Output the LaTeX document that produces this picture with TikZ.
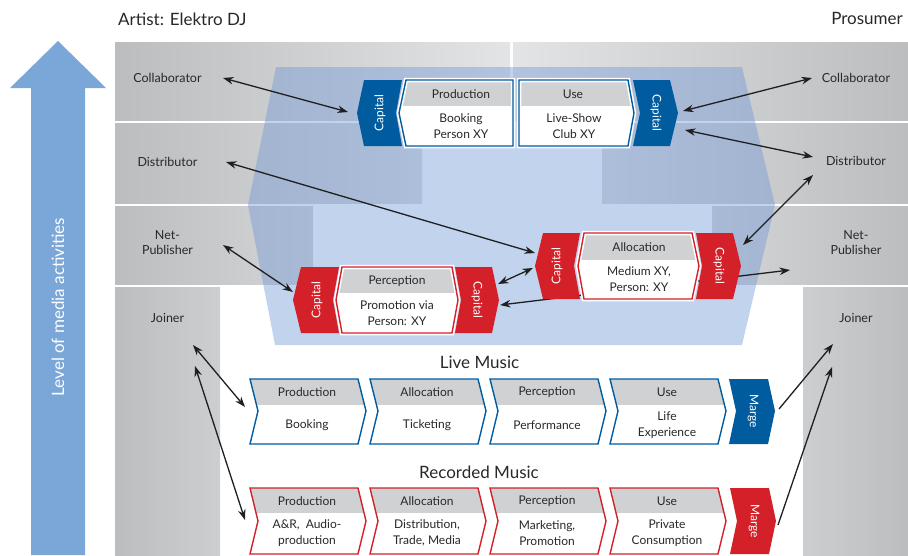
\documentclass[tikz,border=0pt]{standalone}
\usepackage{fontspec}
\setmainfont{Lato}
\usetikzlibrary{arrows.meta}

\definecolor{mblue}{RGB}{0,92,158}
\definecolor{mred}{RGB}{212,32,40}
\definecolor{hdrgray}{RGB}{208,209,211}
\definecolor{txt}{RGB}{40,40,40}
\definecolor{levelblue}{RGB}{123,166,216}
\definecolor{mediablue}{RGB}{110,150,215}
\definecolor{gdark}{RGB}{188,189,191}
\definecolor{glA}{RGB}{227,228,230}
\definecolor{glB}{RGB}{219,220,222}
\definecolor{glC}{RGB}{212,213,215}
\definecolor{glD}{RGB}{205,206,208}

% process box: #1 outline, #2 bottom of header band, #3 outline style, #4 halo style
\newcommand{\procbox}[4]{%
  \begin{scope}
    \clip #1;
    \fill[white] (0,0) rectangle (908,555);
    \fill[hdrgray] (0,0) rectangle (908,#2);
  \end{scope}
  \draw[#4] #1;
  \draw[#3] #1;}

\begin{document}
\begin{tikzpicture}[x=1pt,y=-1pt,
  lbl/.style={font=\fontsize{12.5}{15}\selectfont, text=txt, align=center, inner sep=0pt},
  title/.style={font=\fontsize{17}{20}\selectfont, text=txt, inner sep=0pt},
  hdr/.style={font=\fontsize{12}{14}\selectfont, text=txt, inner sep=0pt},
  body/.style={font=\fontsize{12}{15.5}\selectfont, text=txt, align=center, inner sep=0pt},
  captxt/.style={font=\fontsize{12}{14}\selectfont, text=white, inner sep=0pt},
  bluebox/.style={draw=mblue, line width=1.4pt, line join=miter},
  redbox/.style={draw=mred, line width=1.4pt, line join=miter},
  halo/.style={draw=white, line width=4.5pt, line join=miter},
  nohalo/.style={draw=none},
  tipA/.tip={Stealth[length=10.5pt,width=7.5pt]},
  conn/.style={line width=1.3pt, draw=black!88, tipA-tipA},
  conn1/.style={line width=1.3pt, draw=black!88, -tipA},
]
\useasboundingbox (0,0) rectangle (908,555);

% ---------- grey actor bands ----------
\shade[left color=gdark, right color=glA] (115,42) rectangle (510,120);
\shade[left color=glA, right color=gdark] (513,42) rectangle (908,120);
\shade[left color=gdark, right color=glB] (115,123) rectangle (422,203);
\shade[left color=glB, right color=gdark] (602,123) rectangle (908,203);
\shade[left color=gdark, right color=glC] (115,206) rectangle (313,284);
\shade[left color=glC, right color=gdark] (712,206) rectangle (908,284);
\shade[left color=gdark, right color=glD] (115,287) rectangle (220,555);
\shade[left color=glD, right color=gdark] (803,287) rectangle (908,555);

% ---------- translucent media layer ----------
\fill[mediablue, fill opacity=0.42]
  (276,67) -- (742,67) -- (775,205) -- (742,345) -- (275,345) -- (248,205) -- cycle;

% ---------- level arrow ----------
\fill[levelblue] (31,555) -- (31,88) -- (10,88) -- (58,41) -- (106,88) -- (85,88) -- (85,555) -- cycle;
\node[title, text=white, rotate=90] (level) at (58,307) {Level of media activities};

% ---------- titles ----------
\node[title, anchor=base west] (artist) at (118,25) {Artist: Elektro DJ};
\node[title, anchor=base east] (prosumer) at (903,24) {Prosumer};

% ---------- actor labels ----------
\node[lbl] (lcol) at (167.5,78) {Collaborator};
\node[lbl] (ldis) at (167.5,162) {Distributor};
\node[lbl] (lnet) at (167.5,243) {Net-\\Publisher};
\node[lbl] (ljoi) at (167.5,318) {Joiner};
\node[lbl] (rcol) at (856,78) {Collaborator};
\node[lbl] (rdis) at (856,161) {Distributor};
\node[lbl] (rnet) at (856,243) {Net-\\Publisher};
\node[lbl] (rjoi) at (856,318) {Joiner};

% ---------- connector end points ----------
\coordinate (lcolE) at (223,78);
\coordinate (ldisE) at (226,162);
\coordinate (lnetE) at (223,245);
\coordinate (ljoiA) at (193,345);
\coordinate (ljoiB) at (195,366);
\coordinate (rcolW) at (812,78);
\coordinate (rdisW) at (813,157);
\coordinate (rdisS) at (813,175);
\coordinate (rnetW) at (790,270);
\coordinate (rjoiA) at (833,344);
\coordinate (rjoiB) at (832,367);
\coordinate (capTL) at (348,112);
\coordinate (capTRa) at (683,111);
\coordinate (capTRb) at (685,130);
\coordinate (capALa) at (535,253);
\coordinate (capALb) at (533,268);
\coordinate (capAR) at (743,245);
\coordinate (capPL) at (293,292);
\coordinate (capPRa) at (498,284);
\coordinate (capPRb) at (500,305);
\coordinate (liveP) at (245,407);
\coordinate (recP) at (245,520);
\coordinate (liveM) at (779,409);
\coordinate (recM) at (778,525);

% connector running behind the allocation group
\draw[conn] (capPRb) -- (rnetW);

% ---------- top group: production / use ----------
\procbox{(406,80)--(513,80)--(513,146)--(406,146)--(399,113)--cycle}{106}{bluebox}{halo}
\procbox{(519,80)--(628,80)--(634,113)--(628,146)--(519,146)--cycle}{106}{bluebox}{halo}
\fill[mblue] (364,80)--(402,80)--(396,113)--(402,146)--(364,146)--(357,113)--cycle;
\fill[mblue] (633,80)--(670,80)--(678,113)--(670,146)--(633,146)--(640,113)--cycle;
\node[captxt, rotate=90] (capT1) at (380,113) {Capital};
\node[captxt, rotate=-90] (capT2) at (656,113) {Capital};
\node[hdr] (prodTh) at (461,94) {Production};
\node[body] (prodTb) at (461,126) {Booking\\Person XY};
\node[hdr] (useTh) at (573,94) {Use};
\node[body] (useTb) at (574,126) {Live-Show\\Club XY};

% ---------- allocation group ----------
\procbox{(584,233)--(692,233)--(699,266)--(692,299)--(584,299)--(578,266)--cycle}{260}{redbox}{halo}
\fill[mred] (543,233)--(580,233)--(574,266)--(580,299)--(543,299)--(535,266)--cycle;
\fill[mred] (696,233)--(733,233)--(741,266)--(733,299)--(696,299)--(702,266)--cycle;
\node[captxt, rotate=90] (capA1) at (557,266) {Capital};
\node[captxt, rotate=-90] (capA2) at (719,266) {Capital};
\node[hdr] (allAh) at (639,247) {Allocation};
\node[body] (allAb) at (639,279) {Medium XY,\\Person: XY};

% ---------- perception group ----------
\procbox{(342,267)--(452,267)--(458,300)--(452,333)--(342,333)--(336,300)--cycle}{293}{redbox}{halo}
\fill[mred] (301,267)--(339,267)--(333,300)--(339,333)--(301,333)--(293,300)--cycle;
\fill[mred] (455,267)--(492,267)--(499,300)--(492,333)--(455,333)--(461,300)--cycle;
\node[captxt, rotate=90] (capP1) at (317,300) {Capital};
\node[captxt, rotate=-90] (capP2) at (477,300) {Capital};
\node[hdr] (perPh) at (397,281) {Perception};
\node[body] (perPb) at (397,313) {Promotion via\\Person: XY};

% ---------- live music chain ----------
\node[title] (livetitle) at (479.5,362) {Live Music};
\foreach \x/\h/\b/\n in {250/Production/Booking/l1, 370/Allocation/Ticketing/l2,
    490/Perception/Performance/l3, 610/Use/{Life\\Experience}/l4}{
  \procbox{(\x,379)--(\x+108,379)--(\x+116,411)--(\x+108,444)--(\x,444)--(\x+8,411)--cycle}{405}{bluebox}{nohalo}
  \node[hdr] (\n h) at (\x+57,392) {\h};
  \node[body] (\n b) at (\x+57,425) {\b};
}
\fill[mblue] (729,379)--(768,379)--(775,411)--(768,444)--(729,444)--(736,411)--cycle;
\node[captxt, rotate=-90] (margeL) at (753,411) {Marge};

% ---------- recorded music chain ----------
\node[title] (rectitle) at (479,472) {Recorded Music};
\foreach \x/\h/\b/\n in {250/Production/{A\&R,~ Audio-\\production}/r1,
    370/Allocation/{Distribution,\\Trade, Media}/r2,
    490/Perception/{Marketing,\\Promotion}/r3, 610/Use/{Private\\Consumption}/r4}{
  \procbox{(\x,488)--(\x+108,488)--(\x+116,521)--(\x+108,554)--(\x,554)--(\x+8,521)--cycle}{513}{redbox}{nohalo}
  \node[hdr] (\n h) at (\x+57,501) {\h};
  \node[body] (\n b) at (\x+57,533) {\b};
}
\fill[mred] (730,488)--(769,488)--(776,521)--(769,554)--(730,554)--(737,521)--cycle;
\node[captxt, rotate=-90] (margeR) at (754,521) {Marge};

% ---------- connectors ----------
\draw[conn] (lcolE) -- (capTL);
\draw[conn] (ldisE) -- (capALa);
\draw[conn] (lnetE) -- (capPL);
\draw[conn] (capPRa) -- (capALb);
\draw[conn] (capTRa) -- (rcolW);
\draw[conn] (capTRb) -- (rdisW);
\draw[conn] (capAR) -- (rdisS);
\draw[conn] (ljoiA) -- (liveP);
\draw[conn] (ljoiB) -- (recP);
\draw[conn1] (liveM) -- (rjoiA);
\draw[conn1] (recM) -- (rjoiB);
\end{tikzpicture}
\end{document}
